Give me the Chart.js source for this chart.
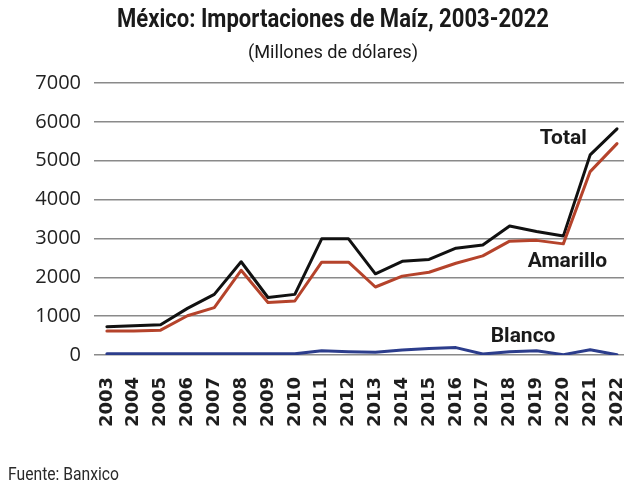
<!DOCTYPE html>
<html>
<head>
<meta charset="utf-8">
<script src="https://cdn.jsdelivr.net/npm/chart.js@4"></script>
<style>
  html, body { margin: 0; padding: 0; background: #fff; }
  #wrap { width: 624px; height: 487px; }
</style>
</head>
<body>
<div id="wrap"><canvas id="chart" width="624" height="487"></canvas></div>
<script>
const years = [2003, 2004, 2005, 2006, 2007, 2008, 2009, 2010, 2011, 2012,
               2013, 2014, 2015, 2016, 2017, 2018, 2019, 2020, 2021, 2022];
const total = [730, 750, 780, 1200, 1560, 2400, 1480, 1560, 2990, 2990,
               2090, 2410, 2460, 2750, 2830, 3320, 3180, 3060, 5150, 5820];
const amarillo = [620, 620, 640, 1010, 1220, 2180, 1350, 1390, 2390, 2390,
                  1750, 2030, 2130, 2360, 2550, 2930, 2950, 2860, 4720, 5440];
const blanco = [30, 30, 30, 30, 30, 30, 30, 30, 110, 85,
                70, 130, 170, 190, 25, 85, 110, 10, 135, 5];
const yTicks = [0, 1000, 2000, 3000, 4000, 5000, 6000, 7000];

const title = 'México: Importaciones de Maíz, 2003-2022';
const subtitle = '(Millones de dólares)';
const source = 'Fuente: Banxico';

const toPts = arr => arr.map((v, i) => ({ x: years[i], y: v }));

// series labels placed in data space
const seriesLabels = [
  { text: 'Total', x: 2020.0, y: 5560, w: 47 },
  { text: 'Amarillo', x: 2020.15, y: 2400, w: 82 },
  { text: 'Blanco', x: 2018.5, y: 470, w: 66 }
];

const textPlugin = {
  id: 'texts',
  afterDraw(chart) {
    const ctx = chart.ctx;
    const xs = chart.scales.x, ys = chart.scales.y;
    ctx.save();
    ctx.fillStyle = '#1a1a1a';
    ctx.textAlign = 'center';
    ctx.textBaseline = 'middle';
    ctx.font = 'bold 25px Roboto, "DejaVu Sans", sans-serif';
    ctx.fillText(title, 333, 21, 432);
    ctx.font = '19px Roboto, "DejaVu Sans", sans-serif';
    ctx.fillText(subtitle, 333, 53, 170);

    ctx.font = 'bold 21px Roboto, "DejaVu Sans", sans-serif';
    seriesLabels.forEach(l => {
      ctx.fillText(l.text, xs.getPixelForValue(l.x), ys.getPixelForValue(l.y), l.w);
    });

    ctx.textAlign = 'left';
    ctx.font = '18px Roboto, "DejaVu Sans", sans-serif';
    ctx.fillStyle = '#2a2a2a';
    ctx.fillText(source, 8, 475, 111);
    ctx.restore();
  }
};

new Chart(document.getElementById('chart'), {
  type: 'line',
  data: {
    datasets: [
      { label: 'Blanco', data: toPts(blanco), borderColor: '#2c3d8c', borderWidth: 3 },
      { label: 'Amarillo', data: toPts(amarillo), borderColor: '#b5432b', borderWidth: 3 },
      { label: 'Total', data: toPts(total), borderColor: '#111111', borderWidth: 3 }
    ]
  },
  options: {
    responsive: false,
    animation: false,
    elements: { point: { radius: 0 }, line: { tension: 0, borderCapStyle: 'round', borderJoinStyle: 'round' } },
    layout: { padding: { top: 83, left: 0, right: 0, bottom: 52 } },
    plugins: { legend: { display: false }, tooltip: { enabled: false } },
    scales: {
      x: {
        type: 'linear',
        min: 2002.52,
        max: 2022.26,
        afterBuildTicks: s => { s.ticks = years.map(v => ({ value: v })); },
        afterFit: s => { s.height = 80; s.paddingLeft = 0; s.paddingRight = 0; },
        grid: { display: false },
        border: { display: false },
        ticks: {
          autoSkip: false,
          minRotation: 90,
          maxRotation: 90,
          padding: 14,
          color: '#1e1e1e',
          font: { family: '"DejaVu Sans"', size: 18, weight: 'bold' },
          callback: v => String(v)
        }
      },
      y: {
        min: 0,
        max: 7000,
        afterBuildTicks: s => { s.ticks = yTicks.map(v => ({ value: v })); },
        afterFit: s => { s.width = 94; s.paddingTop = 0; s.paddingBottom = 0; },
        grid: { color: '#8a8a8a', lineWidth: 1.5, drawTicks: false },
        border: { display: false },
        ticks: {
          padding: 13,
          color: '#222',
          font: { family: '"Open Sans"', size: 20 },
          callback: v => String(v)
        }
      }
    }
  },
  plugins: [textPlugin]
});
</script>
</body>
</html>
